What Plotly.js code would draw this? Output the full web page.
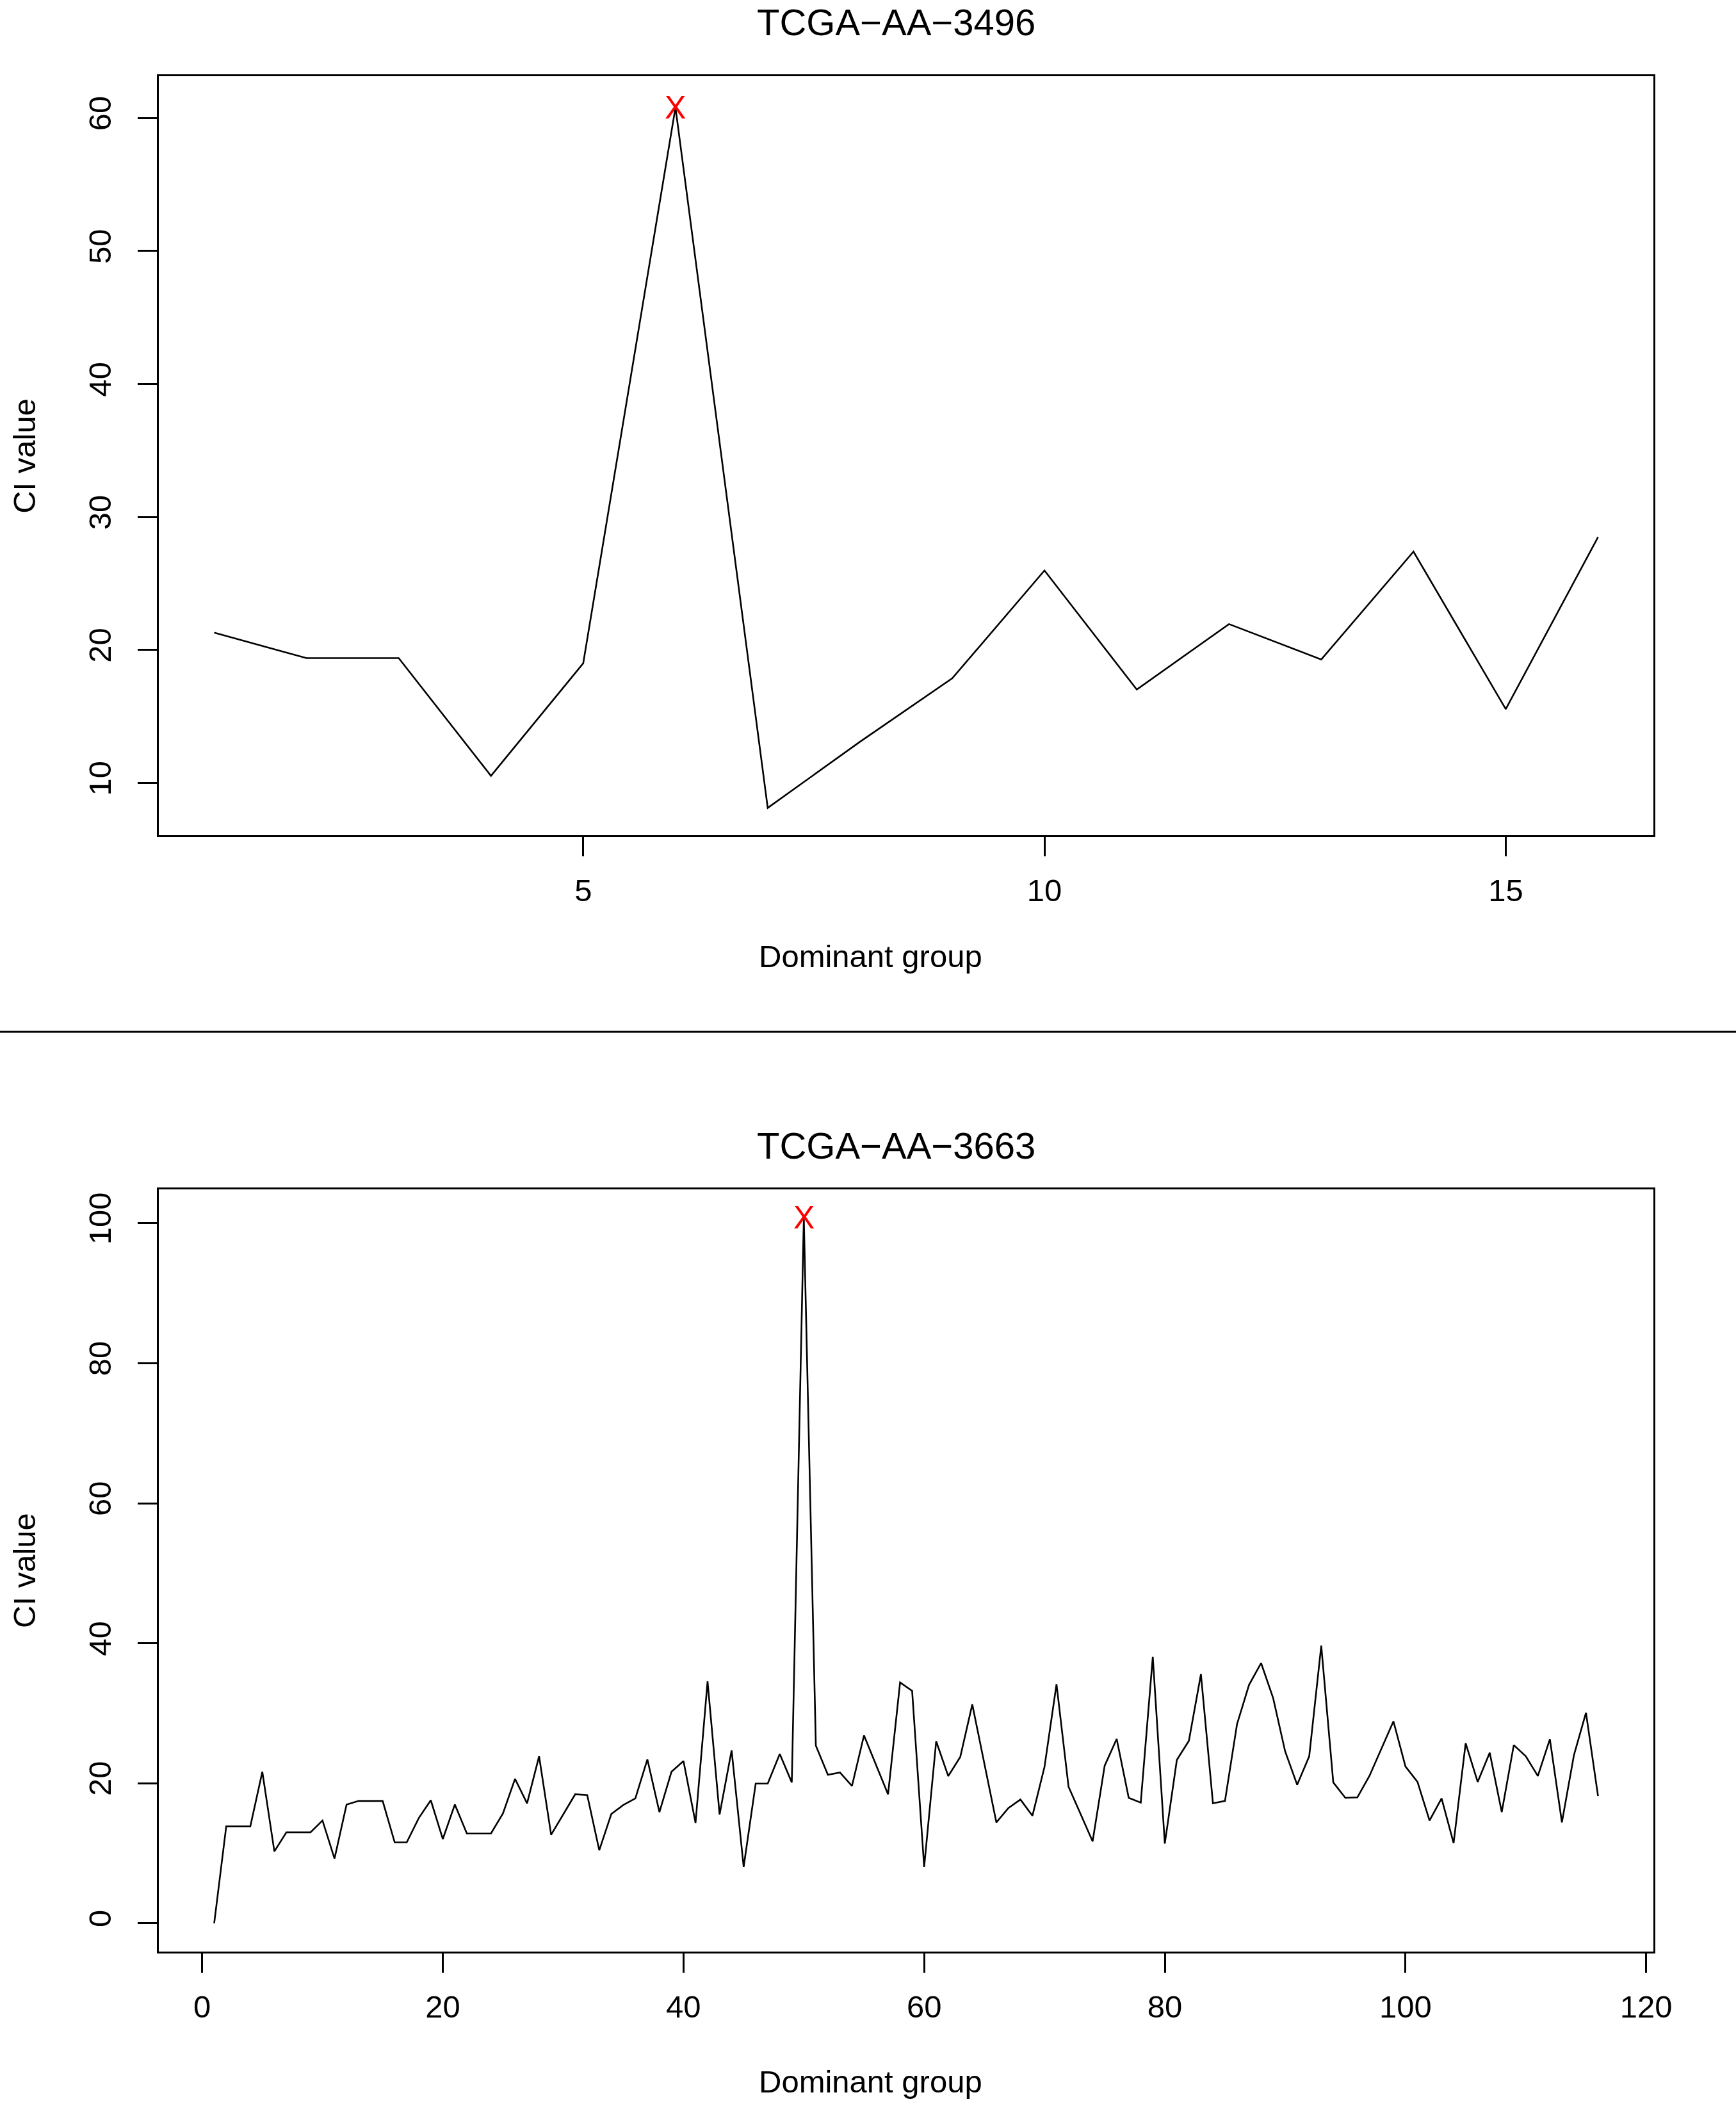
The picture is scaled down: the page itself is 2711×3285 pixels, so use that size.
<!DOCTYPE html>
<html>
<head>
<meta charset="utf-8">
<script src="https://cdn.plot.ly/plotly-3.0.1.min.js"></script>
<style>html,body{margin:0;padding:0;background:#fff;}#chart{width:2711px;height:3285px;}</style>
</head>
<body>
<div id="chart"></div>
<script>
// ---- data ----
const title1 = "TCGA\u2212AA\u22123496";
const title2 = "TCGA\u2212AA\u22123663";
const xLabel = "Dominant group";
const yLabel = "CI value";

const groups1 = [1,2,3,4,5,6,7,8,9,10,11,12,13,14,15,16];
const ci1 = [21.31,19.39,19.39,10.54,19.0,60.8,8.13,13.1,17.87,25.98,17.03,21.95,19.29,27.4,15.56,28.49];

const groups2 = [1,2,3,4,5,6,7,8,9,10,11,12,13,14,15,16,17,18,19,20,
  21,22,23,24,25,26,27,28,29,30,31,32,33,34,35,36,37,38,39,40,
  41,42,43,44,45,46,47,48,49,50,51,52,53,54,55,56,57,58,59,60,
  61,62,63,64,65,66,67,68,69,70,71,72,73,74,75,76,77,78,79,80,
  81,82,83,84,85,86,87,88,89,90,91,92,93,94,95,96,97,98,99,100,
  101,102,103,104,105,106,107,108,109,110,111,112,113,114,115,116];
const ci2 = [0.0,13.83,13.83,13.83,21.64,10.26,12.98,12.98,12.98,14.68,
  9.24,16.96,17.47,17.47,17.47,11.55,11.55,15.02,17.57,12.03,
  16.96,12.81,12.81,12.81,15.70,20.63,17.13,23.85,12.64,15.53,
  18.42,18.31,10.43,15.60,16.89,17.84,23.41,15.87,21.64,23.17,
  14.34,34.56,15.53,24.70,8.05,19.95,19.95,24.19,20.12,100.8,
  25.38,21.20,21.54,19.61,26.84,22.63,18.42,34.39,33.20,8.05,
  25.99,21.03,23.75,31.26,22.8,14.41,16.45,17.67,15.36,22.32,
  34.15,19.50,15.6,11.69,22.49,26.33,17.91,17.23,38.06,11.38,
  23.34,26.06,35.58,17.13,17.47,28.44,34.05,37.17,32.18,24.55,
  19.78,23.85,39.65,20.12,17.91,17.98,21.03,24.9,28.85,22.39,
  20.18,14.68,17.84,11.45,25.72,20.18,24.36,15.87,25.45,23.85,
  21.03,26.30,14.41,24.02,30.07,18.18];

const xTicks1 = [5,10,15];
const yTicks1 = [10,20,30,40,50,60];
const xTicks2 = [0,20,40,60,80,100,120];
const yTicks2 = [0,20,40,60,80,100];

// ---- helpers ----
function peakIndex(arr){ let k=0; arr.forEach((v,i)=>{ if(v>arr[k]) k=i; }); return k; }
const p1 = peakIndex(ci1), p2 = peakIndex(ci2);

const FONT = "Liberation Sans, Arial, Helvetica, sans-serif";
const lineStyle = {color:"#000", width:2.6};

const traces = [
  {x:groups1, y:ci1, type:"scatter", mode:"lines", line:lineStyle, xaxis:"x", yaxis:"y", hoverinfo:"x+y"},
  {x:groups2, y:ci2, type:"scatter", mode:"lines", line:lineStyle, xaxis:"x2", yaxis:"y2", hoverinfo:"x+y"}
];

function axisBase(){
  return {showline:true, mirror:true, linecolor:"#000", linewidth:3,
    ticks:"outside", ticklen:30, tickwidth:3, tickcolor:"#000",
    showgrid:false, zeroline:false, tickmode:"array",
    tickfont:{family:FONT, size:49, color:"#000"}};
}
const xdom = [0.0915, 0.9524];
const layout = {
  width:2711, height:3285,
  margin:{l:0, r:0, t:0, b:0},
  paper_bgcolor:"#fff", plot_bgcolor:"#fff",
  showlegend:false,
  xaxis: Object.assign(axisBase(), {domain:xdom, range:[0.4,16.6], tickvals:xTicks1, anchor:"y", ticklabelstandoff:11}),
  yaxis: Object.assign(axisBase(), {domain:[0.6030,0.9638], range:[6.07,63.15], tickvals:yTicks1, anchor:"x", tickangle:-90, ticklabelstandoff:22}),
  xaxis2: Object.assign(axisBase(), {domain:xdom, range:[-3.6,120.6], tickvals:xTicks2, anchor:"y2", ticklabelstandoff:11}),
  yaxis2: Object.assign(axisBase(), {domain:[0.0725,0.4347], range:[-4.03,104.83], tickvals:yTicks2, anchor:"x2", tickangle:-90, ticklabelstandoff:22}),
  shapes:[
    {type:"line", xref:"paper", yref:"paper", x0:0, x1:1, y0:0.5096, y1:0.5096, line:{color:"#000", width:3}}
  ],
  annotations:[
    {text:"X", xref:"x", yref:"y", x:groups1[p1], y:ci1[p1], xanchor:"center", yanchor:"middle", showarrow:false, font:{family:FONT, size:50, color:"#ff0000"}},
    {text:"X", xref:"x2", yref:"y2", x:groups2[p2], y:ci2[p2], xanchor:"center", yanchor:"middle", showarrow:false, font:{family:FONT, size:50, color:"#ff0000"}},
    {text:title1, xref:"paper", yref:"paper", x:0.5164, y:1, xanchor:"center", yanchor:"top", showarrow:false, font:{family:FONT, size:58, color:"#000"}},
    {text:xLabel, xref:"paper", yref:"paper", x:0.5013, y:0.5455, xanchor:"center", yanchor:"middle", showarrow:false, font:{family:FONT, size:49, color:"#000"}},
    {text:yLabel, xref:"paper", yref:"paper", x:0.014, y:0.7833, xanchor:"center", yanchor:"middle", textangle:-90, showarrow:false, font:{family:FONT, size:49, color:"#000"}},
    {text:title2, xref:"paper", yref:"paper", x:0.5164, y:0.4556, xanchor:"center", yanchor:"middle", showarrow:false, font:{family:FONT, size:58, color:"#000"}},
    {text:xLabel, xref:"paper", yref:"paper", x:0.5013, y:0.0107, xanchor:"center", yanchor:"middle", showarrow:false, font:{family:FONT, size:49, color:"#000"}},
    {text:yLabel, xref:"paper", yref:"paper", x:0.014, y:0.2536, xanchor:"center", yanchor:"middle", textangle:-90, showarrow:false, font:{family:FONT, size:49, color:"#000"}}
  ]
};

Plotly.newPlot("chart", traces, layout, {staticPlot:true, displayModeBar:false});
</script>
</body>
</html>
